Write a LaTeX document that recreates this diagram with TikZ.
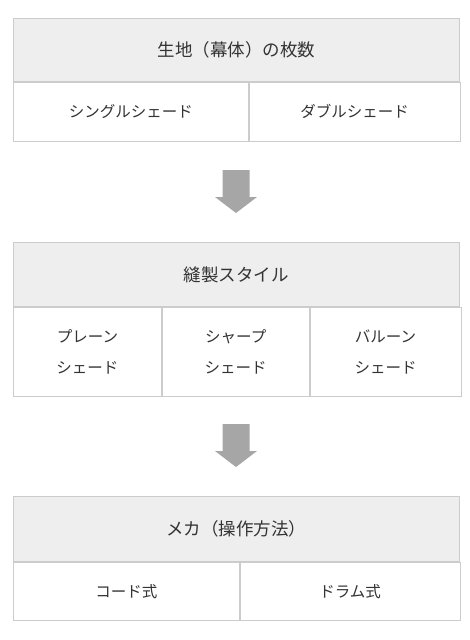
\documentclass[tikz,border=0pt]{standalone}
\usepackage{fontspec}
\setmainfont{Noto Sans CJK JP}
\usetikzlibrary{positioning}
\definecolor{lineg}{HTML}{CCCCCC}
\definecolor{headg}{HTML}{EEEEEE}
\definecolor{arrowg}{HTML}{A6A6A6}
\definecolor{textg}{HTML}{333333}
\tikzset{
  headcell/.style={draw=lineg,fill=headg,anchor=north west,inner sep=0pt,
    minimum width=446pt,text=textg,font=\fontsize{17.5}{21}\selectfont},
  bodycell/.style={draw=lineg,fill=white,inner sep=0pt,align=center,
    text=textg,font=\fontsize{15.5}{31}\selectfont},
}
\begin{document}
\begin{tikzpicture}[x=1pt,y=-1pt,line width=0.8pt,node distance=0pt]
\useasboundingbox (0,0) rectangle (469,640);
% table 1
\node[headcell,minimum height=63pt] (fabric) at (13,18) {生地（幕体）の枚数};
\node[bodycell,anchor=north west,minimum width=235pt,minimum height=59pt] (single) at (fabric.south west) {シングルシェード};
\node[bodycell,right=of single,minimum width=211pt,minimum height=59pt] (double) {ダブルシェード};
% table 2
\node[headcell,minimum height=64pt] (sewing) at (13,242) {縫製スタイル};
\node[bodycell,anchor=north west,minimum width=148pt,minimum height=89pt] (plain) at (sewing.south west) {プレーン\\シェード};
\node[bodycell,right=of plain,minimum width=147pt,minimum height=89pt] (sharp) {シャープ\\シェード};
\node[bodycell,right=of sharp,minimum width=151pt,minimum height=89pt] (balloon) {バルーン\\シェード};
% table 3
\node[headcell,minimum height=65pt] (mecha) at (13,496) {メカ（操作方法）};
\node[bodycell,anchor=north west,minimum width=226pt,minimum height=58pt] (cord) at (mecha.south west) {コード式};
\node[bodycell,right=of cord,minimum width=220pt,minimum height=58pt] (drum) {ドラム式};
% arrows
\foreach \t in {170,424}
  \fill[arrowg] (222.5,\t) -- (249.5,\t) -- (249.5,\t+27) -- (257,\t+27)
    -- (236,\t+43) -- (215,\t+27) -- (222.5,\t+27) -- cycle;
\end{tikzpicture}
\end{document}
